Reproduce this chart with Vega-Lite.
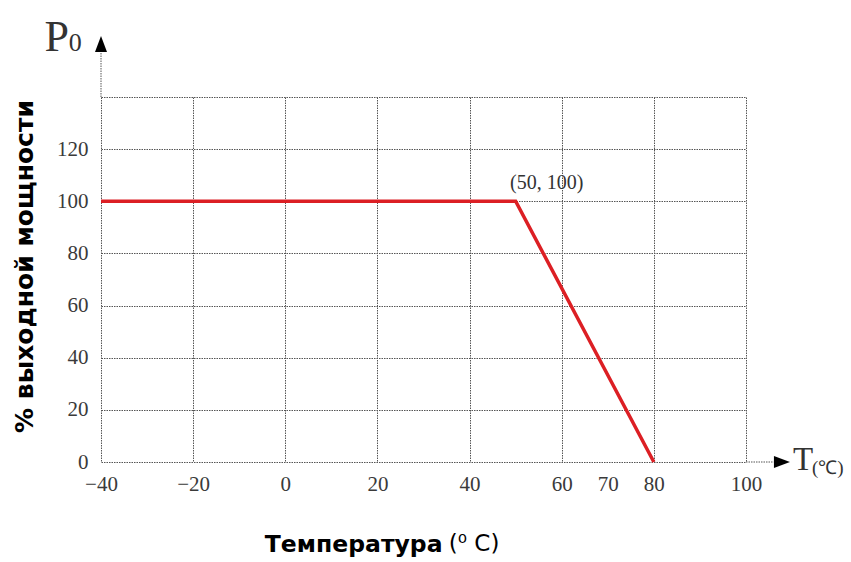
{
  "$schema": "https://vega.github.io/schema/vega-lite/v6.json",
  "width": 645,
  "height": 365,
  "autosize": {"type": "none"},
  "padding": {"left": 101, "top": 97, "right": 105, "bottom": 100},
  "background": "white",
  "config": {"view": {"stroke": null}},
  "datasets": {
    "curve": [
      {"t": -40, "p": 100},
      {"t": 50, "p": 100},
      {"t": 80, "p": 0}
    ],
    "note": [{"t": 50, "p": 100, "label": "(50, 100)"}],
    "one": [{}]
  },
  "layer": [
    {
      "data": {"name": "one"},
      "mark": {"type": "rule", "stroke": "#555", "strokeWidth": 1, "strokeDash": [1.5, 1]},
      "encoding": {
        "x": {"datum": -40, "type": "quantitative"},
        "y": {"datum": 140, "type": "quantitative"},
        "y2": {"datum": 157}
      }
    },
    {
      "data": {"name": "one"},
      "mark": {"type": "rule", "stroke": "#555", "strokeWidth": 1, "strokeDash": [1.5, 1]},
      "encoding": {
        "x": {"datum": 100, "type": "quantitative"},
        "x2": {"datum": 106},
        "y": {"datum": 0, "type": "quantitative"}
      }
    },
    {
      "data": {"name": "one"},
      "mark": {"type": "point", "shape": "M-0.75,1L0,-1L0.75,1Z", "filled": true, "color": "black", "size": 256, "opacity": 1},
      "encoding": {
        "x": {"datum": -40, "type": "quantitative"},
        "y": {"datum": 160.3, "type": "quantitative"}
      }
    },
    {
      "data": {"name": "one"},
      "mark": {"type": "point", "shape": "M-1,-0.75L1,0L-1,0.75Z", "filled": true, "color": "black", "size": 256, "opacity": 1},
      "encoding": {
        "x": {"datum": 107.8, "type": "quantitative"},
        "y": {"datum": 0, "type": "quantitative"}
      }
    },
    {
      "data": {"name": "curve"},
      "mark": {"type": "line", "color": "#dc1f24", "strokeWidth": 3.5},
      "encoding": {
        "x": {
          "field": "t",
          "type": "quantitative",
          "scale": {"domain": [-40, 100], "nice": false, "zero": false},
          "axis": {
            "values": [-40, -20, 0, 20, 40, 60, 70, 80, 100],
            "domain": false,
            "ticks": false,
            "grid": true,
            "gridColor": "#555",
            "gridDash": [1.5, 1],
            "gridWidth": 1,
            "gridOpacity": {"condition": {"test": "datum.value == 70", "value": 0}, "value": 1},
            "labelFont": "Liberation Serif",
            "labelFontSize": 21,
            "labelColor": "#3a3a3a",
            "labelPadding": 11,
            "labelFlush": false,
            "title": "Температура",
            "titleFont": "DejaVu Sans",
            "titleFontWeight": "bold",
            "titleFontSize": 23.5,
            "titleColor": "black",
            "titleAlign": "right",
            "titleBaseline": "alphabetic",
            "titleAnchor": null,
            "titleX": 341,
            "titleY": 89
          }
        },
        "y": {
          "field": "p",
          "type": "quantitative",
          "scale": {"domain": [0, 140], "nice": false, "zero": false},
          "axis": {
            "values": [0, 20, 40, 60, 80, 100, 120, 140],
            "domain": false,
            "ticks": false,
            "grid": true,
            "gridColor": "#555",
            "gridDash": [1.5, 1],
            "gridWidth": 1,
            "labelExpr": "datum.value == 140 ? '' : datum.label",
            "labelFont": "Liberation Serif",
            "labelFontSize": 21,
            "labelColor": "#3a3a3a",
            "labelPadding": 13,
            "labelFlush": false,
            "title": "% выходной мощности",
            "titleFont": "DejaVu Sans",
            "titleFontWeight": "bold",
            "titleFontSize": 25,
            "titleColor": "black",
            "titleAlign": "center",
            "titleBaseline": "alphabetic",
            "titleAngle": 270,
            "titleX": -69,
            "titleY": 169
          }
        }
      }
    },
    {
      "data": {"name": "note"},
      "mark": {"type": "text", "font": "Liberation Serif", "fontSize": 20, "color": "#333", "align": "center", "baseline": "middle", "dx": 31, "dy": -18},
      "encoding": {
        "x": {"field": "t", "type": "quantitative"},
        "y": {"field": "p", "type": "quantitative"},
        "text": {"field": "label"}
      }
    },
    {
      "data": {"name": "one"},
      "mark": {"type": "text", "text": "(⁰ C)", "font": "DejaVu Sans", "fontSize": 23, "color": "black", "align": "left", "baseline": "alphabetic"},
      "encoding": {
        "x": {"datum": 35.5, "type": "quantitative"},
        "y": {"datum": -34.1, "type": "quantitative"}
      }
    },
    {
      "data": {"name": "one"},
      "mark": {"type": "text", "text": "T", "font": "Liberation Serif", "fontSize": 33, "color": "#333", "align": "center", "baseline": "middle"},
      "encoding": {
        "x": {"datum": 112.4, "type": "quantitative"},
        "y": {"datum": 0.6, "type": "quantitative"}
      }
    },
    {
      "data": {"name": "one"},
      "mark": {"type": "text", "text": "(℃)", "font": "Liberation Serif", "fontSize": 19, "color": "#333", "align": "left", "baseline": "middle"},
      "encoding": {
        "x": {"datum": 114.3, "type": "quantitative"},
        "y": {"datum": -2.4, "type": "quantitative"}
      }
    },
    {
      "data": {"name": "one"},
      "mark": {"type": "text", "text": "P", "font": "Liberation Serif", "fontSize": 44, "color": "#333", "align": "center", "baseline": "alphabetic"},
      "encoding": {
        "x": {"datum": -49.6, "type": "quantitative"},
        "y": {"datum": 157.5, "type": "quantitative"}
      }
    },
    {
      "data": {"name": "one"},
      "mark": {"type": "text", "text": "0", "font": "Liberation Serif", "fontSize": 26, "color": "#333", "align": "center", "baseline": "alphabetic"},
      "encoding": {
        "x": {"datum": -45.6, "type": "quantitative"},
        "y": {"datum": 157.5, "type": "quantitative"}
      }
    }
  ]
}
